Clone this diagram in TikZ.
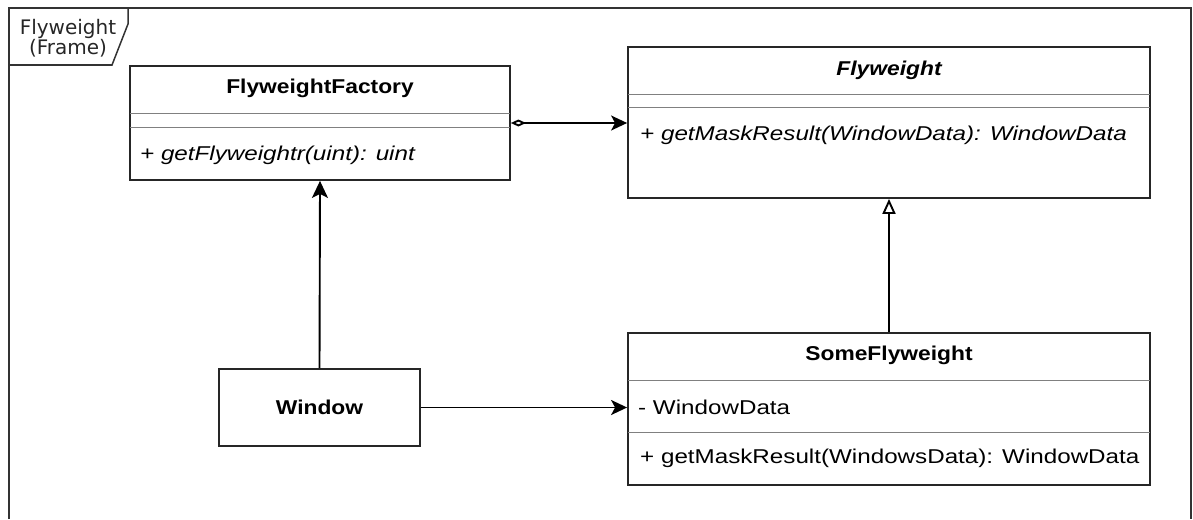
\documentclass[tikz,border=0pt]{standalone}
\usepackage{fontspec}
\setmainfont{Liberation Sans}[FakeStretch=1.21,BoldFeatures={FakeStretch=1.14},BoldItalicFeatures={FakeStretch=1.14}]
\newfontfamily\framefont{DejaVu Sans}
\usetikzlibrary{arrows.meta,positioning}

\tikzset{
  x=1pt, y=-1pt,
  classbox/.style={draw=black!85, line width=1.8pt, fill=white, inner sep=0pt},
  sepline/.style={draw=black!50, line width=1pt},
  txt/.style={font=\fontsize{20}{24}\selectfont, inner sep=0pt, text=black},
  conn/.style={line width=1.9pt, draw=black},
}

\begin{document}
\begin{tikzpicture}
\useasboundingbox (0,0) rectangle (1193,519);

%frame
\draw[line width=1.5pt, black!80] (9,519) -- (9,8) -- (1191,8) -- (1191,519);
\draw[line width=1.5pt, black!80] (9,65) -- (112,65) -- (128,24) -- (128,8);
\node[font=\framefont\fontsize{20}{20}\selectfont, align=center, inner sep=0pt, text=black!85] (framelabel) at (68,38) {Flyweight\\(Frame)};

%classes
\node[classbox, minimum width=380, minimum height=114] (factory) at (320,123) {};
\node[classbox, minimum width=522, minimum height=151] (flyweight) at (889,122.5) {};
\node[classbox, minimum width=522, minimum height=152] (some) at (889,409) {};
\node[classbox, minimum width=201, minimum height=77] (window) at (319.5,407.5) {};

%compartments
\draw[sepline] (130,113) -- (510,113);
\draw[sepline] (130,127) -- (510,127);
\draw[sepline] (628,94) -- (1150,94);
\draw[sepline] (628,107) -- (1150,107);
\draw[sepline] (628,380) -- (1150,380);
\draw[sepline] (628,432) -- (1150,432);

%texts
\node[txt, font=\fontsize{20}{24}\selectfont\bfseries] (factorytitle) at (320,88) {FlyweightFactory};
\node[txt, anchor=west] (factoryop) at (140,155) {\itshape + getFlyweightr(uint): uint};
\node[txt, font=\fontsize{20}{24}\selectfont\bfseries\itshape] (flyweighttitle) at (889,70) {Flyweight};
\node[txt, anchor=west] (flyweightop) at (640,135) {\itshape + getMaskResult(WindowData): WindowData};
\node[txt, font=\fontsize{20}{24}\selectfont\bfseries] (sometitle) at (889,355) {SomeFlyweight};
\node[txt, anchor=west] (someattr) at (638,407) {- WindowData};
\node[txt, anchor=west] (someop) at (640,458) {+ getMaskResult(WindowsData): WindowData};
\node[txt, font=\fontsize{20}{24}\selectfont\bfseries] (windowtitle) at (319.5,407.5) {Window};

%connectors
\draw[conn, {Diamond[open,length=15pt,width=7pt]}-{Stealth[length=16pt,width=15pt,inset=4pt]}] (factory.east) -- (factory.east -| flyweight.west);
\draw[conn, -{Stealth[length=17pt,width=16pt,inset=4pt]}] (window.north) -- (factory.south);
\draw[conn, -{Stealth[length=16pt,width=15pt,inset=4pt]}] (window.east) -- (window.east -| some.west);
\draw[conn, -{Triangle[open,length=15pt,width=13pt]}] (some.north) -- (flyweight.south);

\end{tikzpicture}
\end{document}
